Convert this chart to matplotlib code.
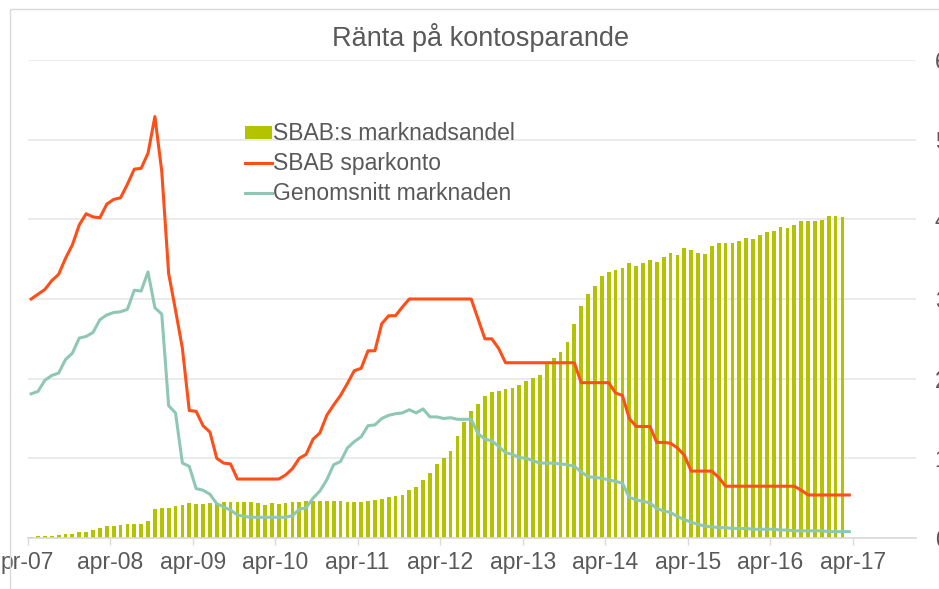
import numpy as np
import matplotlib.pyplot as plt
from matplotlib.patches import Rectangle

plt.rcParams["font.family"] = ["Liberation Sans", "DejaVu Sans"]

# x-axel: månader från apr-07, etiketter varje april
tick_labels = ["pr-07", "apr-08", "apr-09", "apr-10", "apr-11", "apr-12",
               "apr-13", "apr-14", "apr-15", "apr-16", "apr-17"]

# SBAB:s marknadsandel (apr-07 .. feb-17)
andel = [0.01, 0.02, 0.03, 0.03, 0.04, 0.05, 0.05, 0.07, 0.08, 0.10, 0.13, 0.15,
         0.15, 0.16, 0.17, 0.18, 0.18, 0.21, 0.36, 0.38, 0.38, 0.40, 0.41, 0.435,
         0.43, 0.43, 0.44, 0.445, 0.45, 0.45, 0.45, 0.447, 0.447, 0.439, 0.418, 0.435,
         0.43, 0.435, 0.447, 0.451, 0.46, 0.46, 0.464, 0.468, 0.468, 0.464, 0.455, 0.451,
         0.447, 0.464, 0.472, 0.489, 0.518, 0.522, 0.543, 0.606, 0.64, 0.727, 0.81, 0.932,
         1.004, 1.095, 1.284, 1.455, 1.589, 1.681, 1.785, 1.827, 1.84, 1.873, 1.882, 1.915,
         1.965, 2.007, 2.049, 2.187, 2.258, 2.333, 2.459, 2.689, 2.915, 3.065, 3.166, 3.283,
         3.345, 3.358, 3.388, 3.45, 3.42, 3.45, 3.485, 3.467, 3.526, 3.58, 3.555, 3.634,
         3.609, 3.576, 3.567, 3.664, 3.697, 3.697, 3.709, 3.734, 3.764, 3.752, 3.80, 3.839,
         3.856, 3.902, 3.885, 3.931, 3.981, 3.981, 3.981, 3.994, 4.044, 4.048, 4.031]

# SBAB sparkonto (apr-07 .. mar-17)
sparkonto = [3.00, 3.06, 3.12, 3.23, 3.31, 3.51, 3.68, 3.93, 4.07, 4.03, 4.02, 4.19,
             4.25, 4.27, 4.44, 4.63, 4.64, 4.83, 5.29, 4.60, 3.32, 2.86, 2.38, 1.60,
             1.59, 1.41, 1.33, 1.00, 0.94, 0.93, 0.74, 0.74, 0.74, 0.74, 0.74, 0.74,
             0.74, 0.79, 0.87, 1.00, 1.05, 1.24, 1.32, 1.54, 1.67, 1.79, 1.94, 2.10,
             2.13, 2.35, 2.35, 2.69, 2.79, 2.79, 2.90, 3.00, 3.00, 3.00, 3.00, 3.00,
             3.00, 3.00, 3.00, 3.00, 3.00, 2.75, 2.50, 2.50, 2.38, 2.20, 2.20, 2.20,
             2.20, 2.20, 2.20, 2.20, 2.20, 2.20, 2.20, 2.20, 1.95, 1.95, 1.95, 1.95,
             1.95, 1.82, 1.79, 1.50, 1.40, 1.40, 1.40, 1.20, 1.20, 1.19, 1.13, 1.04,
             0.84, 0.84, 0.84, 0.84, 0.76, 0.65, 0.65, 0.65, 0.65, 0.65, 0.65, 0.65,
             0.65, 0.65, 0.65, 0.65, 0.60, 0.54, 0.54, 0.54, 0.54, 0.54, 0.54, 0.54]

# Genomsnitt marknaden (apr-07 .. mar-17)
snitt = [1.81, 1.84, 1.98, 2.04, 2.07, 2.24, 2.32, 2.51, 2.53, 2.58, 2.74, 2.80,
         2.83, 2.84, 2.87, 3.11, 3.10, 3.34, 2.89, 2.81, 1.66, 1.57, 0.94, 0.90,
         0.62, 0.60, 0.55, 0.43, 0.39, 0.35, 0.29, 0.27, 0.26, 0.26, 0.26, 0.26,
         0.26, 0.26, 0.28, 0.36, 0.38, 0.50, 0.59, 0.73, 0.92, 0.96, 1.13, 1.21,
         1.27, 1.41, 1.42, 1.50, 1.54, 1.56, 1.57, 1.61, 1.57, 1.62, 1.52, 1.52,
         1.50, 1.51, 1.49, 1.49, 1.49, 1.31, 1.24, 1.22, 1.15, 1.07, 1.05, 1.01,
         1.00, 0.97, 0.94, 0.94, 0.94, 0.93, 0.92, 0.90, 0.83, 0.77, 0.76, 0.75,
         0.73, 0.71, 0.69, 0.51, 0.48, 0.46, 0.44, 0.37, 0.34, 0.32, 0.27, 0.23,
         0.20, 0.17, 0.15, 0.14, 0.13, 0.13, 0.12, 0.12, 0.12, 0.11, 0.11, 0.11,
         0.11, 0.10, 0.10, 0.09, 0.09, 0.09, 0.09, 0.09, 0.08, 0.08, 0.08, 0.08]

grey = "#595959"
x = np.arange(len(sparkonto)) + 0.5

fig = plt.figure(figsize=(9.39, 5.89), dpi=100)
ax = fig.add_axes([27.7 / 939, 1 - 538 / 589, (916 - 27.7) / 939, (538 - 60) / 589])

b = ax.bar(x[:len(andel)], andel, width=0.55, color="#B3C300", label="SBAB:s marknadsandel", zorder=2)
l1, = ax.plot(x, sparkonto, color="#FF4E17", lw=2.2, label="SBAB sparkonto", zorder=3)
l2, = ax.plot(x, snitt, color="#8FC7B5", lw=2.2, label="Genomsnitt marknaden", zorder=3)

ax.set_xlim(0, 129.2)
ax.set_ylim(0, 6)
ax.set_xticks(np.arange(0, 121, 12))
ax.set_xticklabels(tick_labels)
ax.set_yticks(range(7))
ax.yaxis.tick_right()
ax.tick_params(axis="y", length=0, pad=13.5, labelsize=16.5, labelcolor=grey)
ax.tick_params(axis="x", length=5, width=1, color="#D9D9D9", pad=4, labelsize=16.5, labelcolor=grey)
ax.grid(axis="y", color="#E8E8E8", lw=1.2, zorder=0)
ax.set_axisbelow(True)
for s in ["left", "right", "top"]:
    ax.spines[s].set_visible(False)
ax.spines["bottom"].set_color("#D9D9D9")
ax.spines["bottom"].set_linewidth(1.2)

leg = ax.legend([b, l1, l2], ["SBAB:s marknadsandel", "SBAB sparkonto", "Genomsnitt marknaden"],
                loc="upper left", bbox_to_anchor=(234 / 939, 1 - 111 / 589),
                bbox_transform=fig.transFigure, frameon=False, fontsize=16.5,
                borderpad=0, handlelength=1.15, handleheight=0.5, handletextpad=0.05,
                labelspacing=0.3)
for t in leg.get_texts():
    t.set_color(grey)

fig.text(481 / 939, 1 - 37 / 589, "Ränta på kontosparande", ha="center", va="center",
         fontsize=19.5, color=grey)

# ram runt diagrammet
fig.add_artist(Rectangle((10 / 939, -0.1), 1.2, 1.1 - 9 / 589, transform=fig.transFigure,
                         fill=False, edgecolor="#D9D9D9", lw=1))

plt.savefig("out.png", dpi=100)
